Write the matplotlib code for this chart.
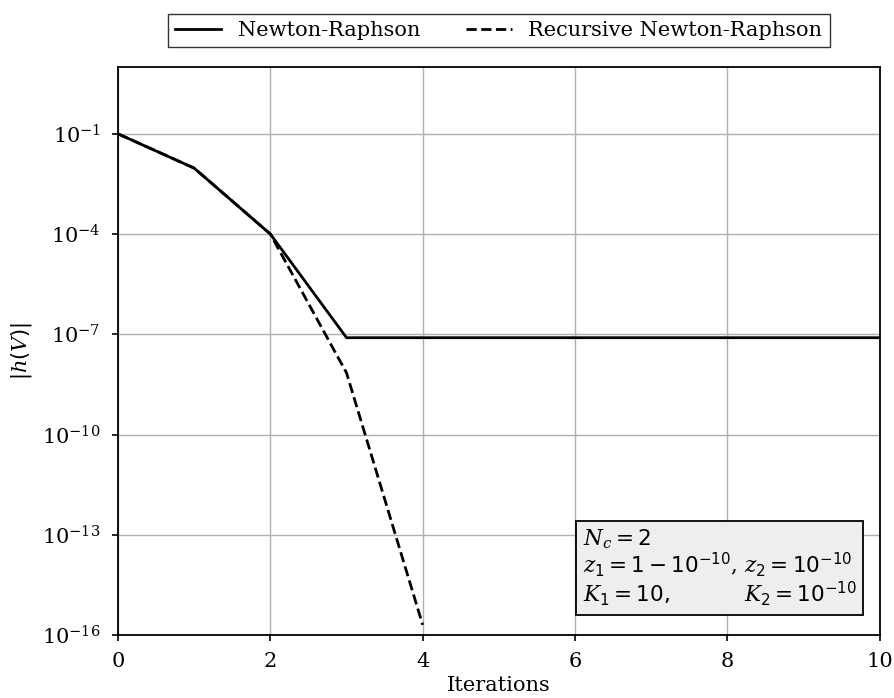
import matplotlib
matplotlib.use("Agg")
import matplotlib.pyplot as plt

plt.rcParams["font.family"] = ["DejaVu Serif"]
plt.rcParams["mathtext.fontset"] = "custom"
plt.rcParams["mathtext.rm"] = "DejaVu Sans"
plt.rcParams["mathtext.it"] = "DejaVu Serif:italic"

# residual history for each solver
iterations = [0, 1, 2, 3, 4, 5, 6, 7, 8, 9, 10]
newton = [1e-1, 9.4e-3, 1e-4, 7.9e-8, 7.9e-8, 7.9e-8, 7.9e-8, 7.9e-8, 7.9e-8, 7.9e-8, 7.9e-8]

rec_iterations = [0, 1, 2, 3, 4]
recursive = [1e-1, 9.4e-3, 1e-4, 7e-9, 2e-16]

fig, ax = plt.subplots(figsize=(8.94, 6.98), dpi=100)
fig.subplots_adjust(left=0.132, right=0.984, top=0.904, bottom=0.0903)

ax.plot(iterations, newton, "k-", lw=2, label="Newton-Raphson")
ax.plot(rec_iterations, recursive, "k--", lw=2, label="Recursive Newton-Raphson")

ax.set_yscale("log")
ax.set_xlim(0, 10)
ax.set_ylim(1e-16, 1e1)
ax.set_yticks([1e-16, 1e-13, 1e-10, 1e-7, 1e-4, 1e-1])
ax.minorticks_off()
ax.grid(True, color="#b0b0b0", lw=1)
ax.tick_params(labelsize=15, length=4.5, width=1.2, pad=8)
for s in ax.spines.values():
    s.set_linewidth(1.3)

ax.set_xlabel("Iterations", fontsize=15, labelpad=3.5)
ax.set_ylabel(r"$|h(V)|$", fontsize=15, labelpad=6)

ax.legend(loc="lower center", bbox_to_anchor=(0.5, 1.035), ncol=2,
          fancybox=False, edgecolor="black", fontsize=15,
          handlelength=2.2, columnspacing=2.2, borderaxespad=0,
          borderpad=0.35)

info = "\n".join([
    r"$N_c = 2$",
    r"$z_1 = 1 - 10^{-10}$, $z_2 = 10^{-10}$",
    r"$K_1 = 10,\qquad\quad\;\, K_2 = 10^{-10}$",
])
ax.text(0.97, 0.047, info, transform=ax.transAxes, ha="right", va="bottom",
        ma="left", fontsize=15.5, linespacing=1.0,
        bbox=dict(boxstyle="square,pad=0.3", facecolor="#eeeeee", edgecolor="black", lw=1.3))

fig.savefig("out.png", dpi=100)
